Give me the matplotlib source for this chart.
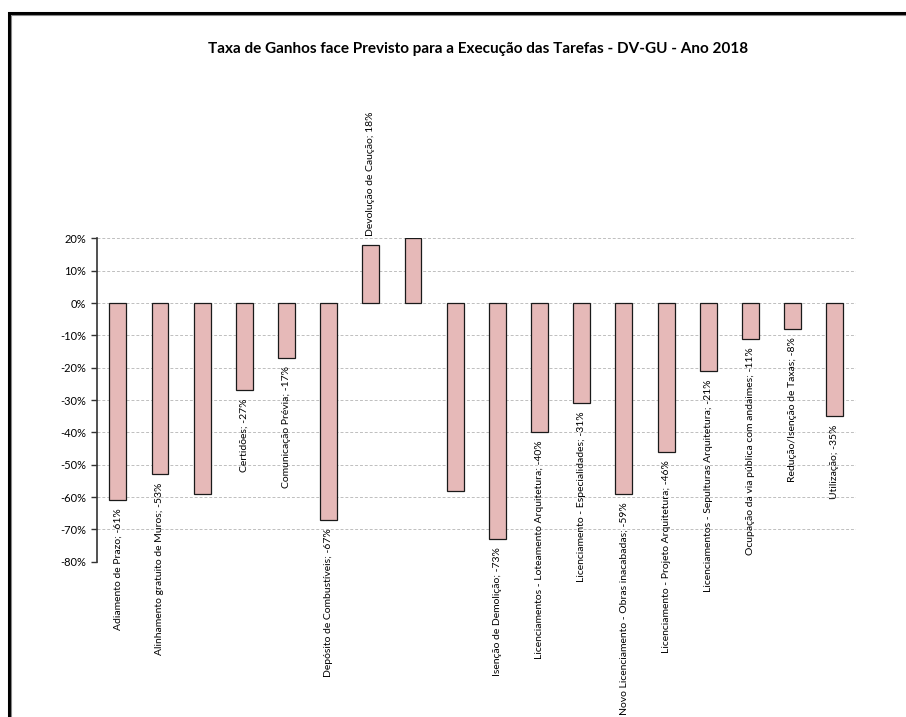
import matplotlib
matplotlib.use("Agg")
import matplotlib.pyplot as plt
from matplotlib.patches import Rectangle
from matplotlib.ticker import FuncFormatter

plt.rcParams['font.family'] = ['Lato', 'DejaVu Sans']

# Tarefas (nomes vazios = barras sem rótulo no original)
tarefas = [
    "Adiamento de Prazo",
    "Alinhamento gratuito de Muros",
    "",
    "Certidões",
    "Comunicação Prévia",
    "Depósito de Combustíveis",
    "Devolução de Caução",
    "",
    "",
    "Isenção de Demolição",
    "Licenciamentos - Loteamento Arquitetura",
    "Licenciamento - Especialidades",
    "Novo Licenciamento - Obras inacabadas",
    "Licenciamento - Projeto Arquitetura",
    "Licenciamentos - Sepulturas Arquitetura",
    "Ocupação da via pública com andaimes",
    "Redução/Isenção de Taxas",
    "Utilização",
]
taxa = [-61, -53, -59, -27, -17, -67, 18, 20, -58, -73, -40, -31, -59, -46, -21, -11, -8, -35]
yticks = list(range(-80, 21, 10))

fig = plt.figure(figsize=(9.06, 7.17), dpi=100)
ax = fig.add_axes([0.1067, 0.2166, 0.838, 0.451])

x = list(range(len(taxa)))
ax.bar(x, taxa, width=0.4, color="#E6B9B8", edgecolor="#1a1a1a", linewidth=0.9, zorder=3)

for xi, v, name in zip(x, taxa, tarefas):
    if not name:
        continue
    txt = f"{name}; {v}%"
    if v < 0:
        ax.annotate(txt, (xi, v), xytext=(0, -6), textcoords="offset points",
                    rotation=90, ha="center", va="top", fontsize=7.5, annotation_clip=False)
    else:
        ax.annotate(txt, (xi, v), xytext=(0, 6), textcoords="offset points",
                    rotation=90, ha="center", va="bottom", fontsize=7.5, annotation_clip=False)

ax.set_xlim(-0.5, len(taxa) - 0.5)
ax.set_ylim(-80, 20)
ax.set_yticks(yticks)
ax.yaxis.set_major_formatter(FuncFormatter(lambda v, p: f"{v:.0f}%"))
ax.tick_params(axis="y", labelsize=8, direction="out", length=4, width=1, colors="#333333", labelcolor="black")
ax.tick_params(axis="x", bottom=False, labelbottom=False)
ax.grid(True, axis="y", linestyle=(0, (3, 2)), color="#BFBFBF", linewidth=0.7, zorder=0)

for s in ["top", "right", "bottom"]:
    ax.spines[s].set_visible(False)
ax.spines["left"].set_color("#333333")
ax.spines["left"].set_linewidth(1.2)

fig.text(478 / 906, 1 - 49 / 717, "Taxa de Ganhos face Previsto para a Execução das Tarefas - DV-GU - Ano 2018",
         ha="center", va="center", fontsize=11, fontweight="bold")

# moldura do gráfico (cortada à direita e em baixo)
fig.patches.append(Rectangle((9 / 906, -0.1), 1.2, 1 - 13 / 717 + 0.1, transform=fig.transFigure,
                             fill=False, edgecolor="black", linewidth=2.2, zorder=10))
fig.patches.append(Rectangle((11 / 906, -0.1), 1.2, 1 - 15 / 717 + 0.1, transform=fig.transFigure,
                             fill=False, edgecolor="#888888", linewidth=0.8, zorder=10))

fig.savefig("out.png", dpi=100)
